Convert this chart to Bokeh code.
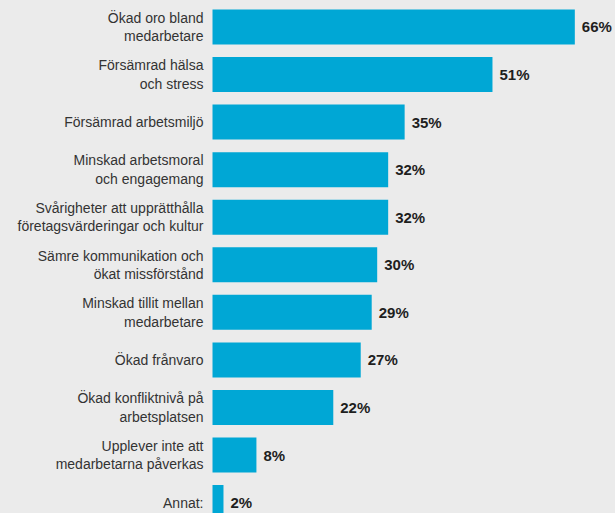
from bokeh.plotting import figure
from bokeh.models import ColumnDataSource, Range1d
from bokeh.core.properties import value
from bokeh.embed import file_html
from bokeh.resources import INLINE

categories = [
    "Ökad oro bland\nmedarbetare",
    "Försämrad hälsa\noch stress",
    "Försämrad arbetsmiljö",
    "Minskad arbetsmoral\noch engagemang",
    "Svårigheter att upprätthålla\nföretagsvärderingar och kultur",
    "Sämre kommunikation och\nökat missförstånd",
    "Minskad tillit mellan\nmedarbetare",
    "Ökad frånvaro",
    "Ökad konfliktnivå på\narbetsplatsen",
    "Upplever inte att\nmedarbetarna påverkas",
    "Annat:",
]
values = [66, 51, 35, 32, 32, 30, 29, 27, 22, 8, 2]
value_labels = [f"{v}%" for v in values]

BG = "#ebebeb"
BAR = "#00a7d5"
FONT = "Liberation Sans"

pos = list(range(len(categories)))
src = ColumnDataSource(dict(y=pos, v=values, cat=categories, lab=value_labels,
                            zero=[0] * len(values)))

p = figure(width=615, height=513, output_backend="svg", toolbar_location=None,
           x_range=Range1d(-38.62, 73.41), y_range=Range1d(10.229, -0.557),
           min_border=0, min_border_left=0, min_border_right=0,
           min_border_top=0, min_border_bottom=0)
p.background_fill_color = BG
p.border_fill_color = BG
p.outline_line_color = None
p.xaxis.visible = False
p.yaxis.visible = False
p.xgrid.visible = False
p.ygrid.visible = False

p.hbar(y="y", left="zero", right="v", height=0.736, source=src,
       fill_color=BAR, line_color=None)

p.text(x="zero", y="y", text="cat", source=src, x_offset=-9, text_align="right",
       text_baseline="middle", text_font=value(FONT), text_font_size="14px",
       text_color="#333333", text_line_height=1.15)

p.text(x="v", y="y", text="lab", source=src, x_offset=7, text_align="left",
       text_baseline="middle", text_font=value(FONT), text_font_size="15px",
       text_font_style="bold", text_color="#1e1e1e")

html = file_html(p, INLINE)
html = html.replace("<head>", "<head><style>html,body{background:#ebebeb;margin:0;padding:0;overflow:hidden;}</style>", 1)
open("out.html", "w").write(html)
